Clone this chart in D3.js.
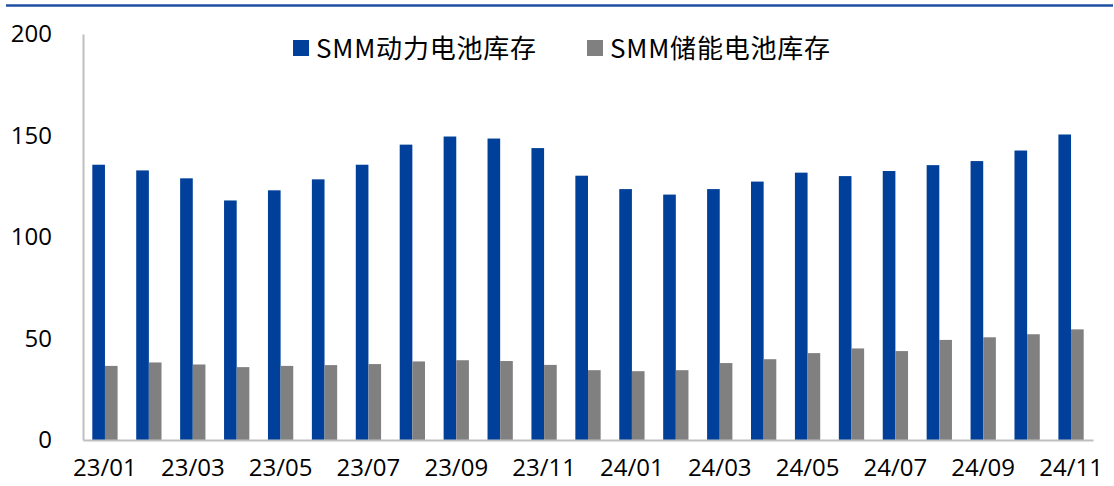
<!DOCTYPE html>
<html>
<head>
<meta charset="utf-8">
<script src="https://cdn.jsdelivr.net/npm/d3@7"></script>
<style>
  html, body { margin: 0; padding: 0; background: #fff; }
  svg { display: block; font-family: "Open Sans", "Noto Sans CJK SC", sans-serif; }
</style>
</head>
<body>
<svg id="chart"></svg>
<script>
const months = ["23/01","23/02","23/03","23/04","23/05","23/06","23/07","23/08","23/09","23/10","23/11","23/12",
  "24/01","24/02","24/03","24/04","24/05","24/06","24/07","24/08","24/09","24/10","24/11"];
const powerStock = [135.6,132.8,128.9,118,123,128.4,135.6,145.5,149.5,148.5,143.8,130.2,
  123.6,120.9,123.6,127.3,131.7,130,132.5,135.4,137.4,142.6,150.5];
const storageStock = [36.5,38.2,37.2,35.9,36.5,36.9,37.4,38.7,39.3,38.9,37,34.4,
  33.9,34.4,37.9,39.8,42.8,45.1,43.8,49.3,50.6,52.1,54.5];
const seriesNames = ["SMM动力电池库存", "SMM储能电池库存"];
const seriesColors = ["#00409a", "#808080"];
const yTicks = [0, 50, 100, 150, 200];

const width = 1114;
const height = 486;
const margin = { top: 34, right: 21, bottom: 46, left: 83 };

const svg = d3.select("#chart")
  .attr("width", width)
  .attr("height", height);

// top rule
svg.append("line")
  .attr("x1", 6).attr("x2", 1113)
  .attr("y1", 5.5).attr("y2", 5.5)
  .attr("stroke", "#1f4fa0")
  .attr("stroke-width", 2.5);

const x = d3.scaleBand()
  .domain(months)
  .range([margin.left, width - margin.right])
  .paddingInner(0.424)
  .paddingOuter(0.212);

const sub = d3.scaleBand()
  .domain([0, 1])
  .range([0, x.bandwidth()]);

const y = d3.scaleLinear()
  .domain([0, 200])
  .range([height - margin.bottom, margin.top]);

const rows = months.map((m, i) => ({ month: m, values: [powerStock[i], storageStock[i]] }));

// bars
const groups = svg.append("g")
  .selectAll("g")
  .data(rows)
  .join("g")
  .attr("transform", d => `translate(${x(d.month)},0)`);

groups.selectAll("rect")
  .data(d => d.values)
  .join("rect")
  .attr("x", (d, i) => sub(i))
  .attr("y", d => y(d))
  .attr("width", sub.bandwidth())
  .attr("height", d => y(0) - y(d))
  .attr("fill", (d, i) => seriesColors[i]);

// Y axis
const yAxis = d3.axisLeft(y)
  .tickValues(yTicks)
  .tickSize(0)
  .tickPadding(31);

const gy = svg.append("g")
  .attr("transform", `translate(${margin.left},0)`)
  .call(yAxis);
gy.select(".domain").attr("stroke", "#bfbfbf").attr("stroke-width", 2);
gy.selectAll("text")
  .attr("font-size", 24)
  .attr("font-family", "Open Sans")
  .attr("fill", "#000");

// X axis
const xAxis = d3.axisBottom(x)
  .tickValues(months.filter((m, i) => i % 2 === 0))
  .tickSize(0)
  .tickPadding(19);

const gx = svg.append("g")
  .attr("transform", `translate(0,${y(0)})`)
  .call(xAxis);
gx.select(".domain").attr("stroke", "#bfbfbf").attr("stroke-width", 2);
gx.selectAll("text")
  .attr("font-size", 24)
  .attr("font-family", "Open Sans")
  .attr("fill", "#000");

// legend
const legendX = [293, 587];
const legend = svg.append("g")
  .selectAll("g")
  .data(seriesNames)
  .join("g")
  .attr("transform", (d, i) => `translate(${legendX[i]},40)`);

legend.append("rect")
  .attr("width", 16)
  .attr("height", 16)
  .attr("fill", (d, i) => seriesColors[i]);

legend.append("text")
  .attr("x", 23)
  .attr("y", 18)
  .attr("font-size", 26)
  .attr("letter-spacing", 0.8)
  .attr("font-family", "'Noto Sans CJK SC', sans-serif")
  .attr("fill", "#000")
  .text(d => d);
</script>
</body>
</html>
